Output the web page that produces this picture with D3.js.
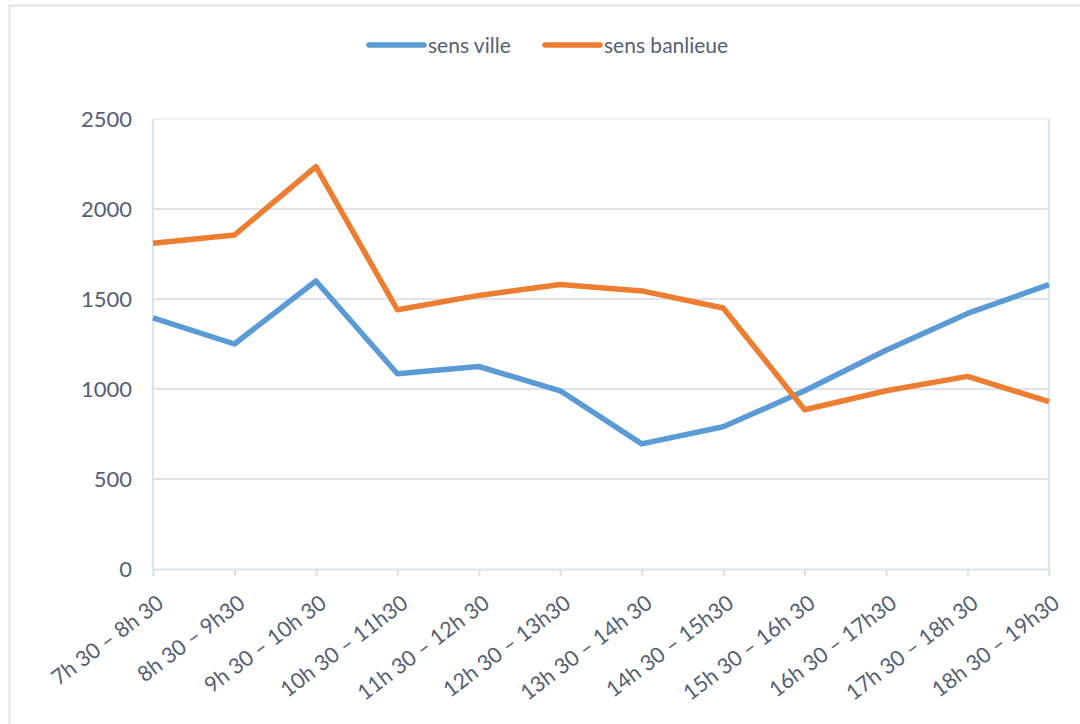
<!DOCTYPE html>
<html>
<head>
<meta charset="utf-8">
<script src="https://cdn.jsdelivr.net/npm/d3@7"></script>
<style>
  body { margin: 0; background: #fff; }
  svg { display: block; font-family: Lato, "Open Sans", sans-serif; }
</style>
</head>
<body>
<svg></svg>
<script>
const width = 1080;
const height = 724;

const categories = [
    '7h 30 – 8h 30', '8h 30 – 9h30', '9h 30 – 10h 30', '10h 30 – 11h30',
    '11h 30 – 12h 30', '12h 30 – 13h30', '13h 30 – 14h 30', '14h 30 – 15h30',
    '15h 30 – 16h 30', '16h 30 – 17h30', '17h 30 – 18h 30', '18h 30 – 19h30'
];
const seriesNames = ['sens ville', 'sens banlieue'];
const sensVille = [1395, 1250, 1600, 1085, 1125, 990, 695, 790, 990, 1215, 1420, 1580];
const sensBanlieue = [1810, 1855, 2235, 1440, 1520, 1580, 1545, 1450, 885, 990, 1070, 930];
const yTicks = [0, 500, 1000, 1500, 2000, 2500];
const colors = ['#5b9bd5', '#ed7d31'];

const margin = { top: 119, right: 31, bottom: 155, left: 153 };
const textColor = '#556074';

const svg = d3.select('svg')
    .attr('width', width).attr('height', height);

// outer chart frame
svg.append('rect')
    .attr('x', 9.5).attr('y', 5.5)
    .attr('width', width + 20).attr('height', height + 20)
    .attr('fill', 'none')
    .attr('stroke', '#dde2ea')
    .attr('stroke-width', 2);

const x = d3.scalePoint()
    .domain(categories)
    .range([margin.left, width - margin.right]);

const y = d3.scaleLinear()
    .domain([0, 2500])
    .range([height - margin.bottom, margin.top]);

// gridlines
svg.append('g')
    .selectAll('line')
    .data(yTicks.filter(d => d > 0))
    .enter().append('line')
    .attr('x1', margin.left).attr('x2', width - margin.right)
    .attr('y1', d => y(d)).attr('y2', d => y(d))
    .attr('stroke', d => d === 2500 ? '#eef2f7' : '#dfe3ea')
    .attr('stroke-width', 2);

// vertical edges of plot
[margin.left, width - margin.right].forEach(px => {
    svg.append('line')
        .attr('x1', px).attr('x2', px)
        .attr('y1', margin.top).attr('y2', height - margin.bottom)
        .attr('stroke', '#d6e6f5')
        .attr('stroke-width', 2);
});

// x axis
const xAxis = svg.append('g')
    .attr('transform', `translate(0,${height - margin.bottom})`)
    .call(d3.axisBottom(x).tickSize(7).tickFormat(''));
xAxis.select('.domain').attr('stroke', '#dbe1ea').attr('stroke-width', 2);
xAxis.selectAll('.tick line').attr('stroke', '#dbe1ea').attr('stroke-width', 2);

svg.append('g')
    .selectAll('text')
    .data(categories)
    .enter().append('text')
    .attr('transform', d => `translate(${x(d) + 3},${height - margin.bottom + 25}) rotate(-37)`)
    .attr('text-anchor', 'end')
    .attr('dy', '0.7em')
    .attr('fill', textColor)
    .style('font-size', '21.5px')
    .text(d => d);

// y axis labels
svg.append('g')
    .selectAll('text')
    .data(yTicks)
    .enter().append('text')
    .attr('x', margin.left - 21)
    .attr('y', d => y(d))
    .attr('dy', '0.36em')
    .attr('text-anchor', 'end')
    .attr('fill', textColor)
    .style('font-size', '22px')
    .text(d => d);

// lines
const line = d3.line()
    .x((d, i) => x(categories[i]))
    .y(d => y(d));

[sensVille, sensBanlieue].forEach((values, i) => {
    svg.append('path')
        .datum(values)
        .attr('d', line)
        .attr('fill', 'none')
        .attr('stroke', colors[i])
        .attr('stroke-width', 5.5)
        .attr('stroke-linejoin', 'round');
});

// legend
const legendX = [369, 545];
const legend = svg.append('g');
seriesNames.forEach((name, i) => {
    legend.append('line')
        .attr('x1', legendX[i]).attr('x2', legendX[i] + 55)
        .attr('y1', 45).attr('y2', 45)
        .attr('stroke', colors[i])
        .attr('stroke-width', 5.5)
        .attr('stroke-linecap', 'round');
    legend.append('text')
        .attr('x', legendX[i] + 59)
        .attr('y', 45)
        .attr('dy', '0.36em')
        .attr('fill', textColor)
        .style('font-size', '21px')
        .text(name);
});
</script>
</body>
</html>
